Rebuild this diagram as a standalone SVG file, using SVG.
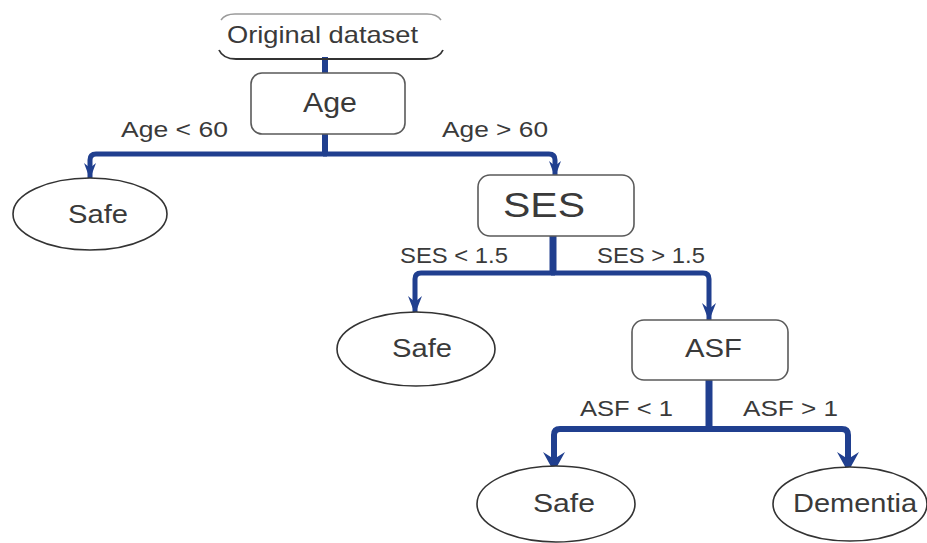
<svg xmlns="http://www.w3.org/2000/svg" width="927" height="543" viewBox="0 0 927 543">
  <style>
    text { font-family: "Liberation Sans", Arial, sans-serif; fill: #3a3a3a; }
    .box { fill: #ffffff; stroke: #5a5a5a; stroke-width: 1.6; }
    .leaf { fill: #ffffff; stroke: #333333; stroke-width: 1.6; }
    .wire { fill: none; stroke: #203f8f; stroke-linecap: butt; stroke-linejoin: round; }
    .lbl { font-size: 22px; }
  </style>
  <defs>
    <marker id="arrowS" markerUnits="userSpaceOnUse" viewBox="0 0 16 12" refX="15" refY="6" markerWidth="16" markerHeight="12" orient="auto">
      <path d="M0,0 L16,6 L0,12 L5,6 Z" fill="#203f8f"/>
    </marker>
    <marker id="arrowM" markerUnits="userSpaceOnUse" viewBox="0 0 18 14" refX="17" refY="7" markerWidth="18" markerHeight="14" orient="auto">
      <path d="M0,0 L18,7 L0,14 L6,7 Z" fill="#203f8f"/>
    </marker>
    <marker id="arrowL" markerUnits="userSpaceOnUse" viewBox="0 0 20 22" refX="19" refY="11" markerWidth="20" markerHeight="22" orient="auto">
      <path d="M0,0 L20,11 L0,22 L7,11 Z" fill="#203f8f"/>
    </marker>
  </defs>

  <rect width="927" height="543" fill="#ffffff"/>

  <!-- connectors -->
  <g id="connectors">
    <!-- root to Age -->
    <path class="wire" d="M325,57 V73" stroke-width="6"/>
    <!-- Age split -->
    <path class="wire" d="M325,132 V154" stroke-width="6"/>
    <path class="wire" d="M327,154 H96 Q90,154 90,160 V178" stroke-width="5" marker-end="url(#arrowS)"/>
    <path class="wire" d="M323,154 H549 Q555,154 555,160 V176" stroke-width="5" marker-end="url(#arrowS)"/>
    <!-- SES split -->
    <path class="wire" d="M553,235 V273" stroke-width="7"/>
    <path class="wire" d="M555,273 H421 Q415,273 415,279 V313" stroke-width="5" marker-end="url(#arrowM)"/>
    <path class="wire" d="M551,273 H703 Q709,273 709,279 V320" stroke-width="5" marker-end="url(#arrowM)"/>
    <!-- ASF split -->
    <path class="wire" d="M709,379 V429" stroke-width="7"/>
    <path class="wire" d="M711,429 H560 Q554,429 554,435 V471" stroke-width="6" marker-end="url(#arrowL)"/>
    <path class="wire" d="M707,429 H842 Q848,429 848,435 V471" stroke-width="6" marker-end="url(#arrowL)"/>
  </g>

  <!-- branch labels -->
  <g id="labels">
    <text class="lbl" x="121" y="137" textLength="107" lengthAdjust="spacingAndGlyphs">Age &lt; 60</text>
    <text class="lbl" x="442" y="137" textLength="106" lengthAdjust="spacingAndGlyphs">Age &gt; 60</text>
    <text class="lbl" x="400" y="263" textLength="108" lengthAdjust="spacingAndGlyphs">SES &lt; 1.5</text>
    <text class="lbl" x="597" y="263" textLength="108" lengthAdjust="spacingAndGlyphs">SES &gt; 1.5</text>
    <text class="lbl" x="580" y="416" textLength="93" lengthAdjust="spacingAndGlyphs">ASF &lt; 1</text>
    <text class="lbl" x="743" y="416" textLength="95" lengthAdjust="spacingAndGlyphs">ASF &gt; 1</text>
  </g>

  <!-- root: original dataset -->
  <g id="node-dataset">
    <path d="M221,20 Q225,14 235,14 H427 Q437,14 441,20" fill="none" stroke="#9a9a9a" stroke-width="1.4"/>
    <path d="M219,50 Q223,59 236,59 H426 Q439,59 443,50" fill="none" stroke="#333333" stroke-width="1.8"/>
    <text x="227" y="43" font-size="24" textLength="191" lengthAdjust="spacingAndGlyphs">Original dataset</text>
  </g>

  <g id="node-age">
    <rect class="box" x="251" y="73" width="154" height="61" rx="11"/>
    <text x="303" y="112" font-size="27" textLength="54" lengthAdjust="spacingAndGlyphs">Age</text>
  </g>

  <g id="node-safe1">
    <ellipse class="leaf" cx="90" cy="214" rx="77" ry="36"/>
    <text x="68" y="223" font-size="26" textLength="60" lengthAdjust="spacingAndGlyphs">Safe</text>
  </g>

  <g id="node-ses">
    <rect class="box" x="478" y="175" width="156" height="61" rx="12"/>
    <text x="503" y="217" font-size="35" textLength="82" lengthAdjust="spacingAndGlyphs">SES</text>
  </g>

  <g id="node-safe2">
    <ellipse class="leaf" cx="416" cy="349" rx="79" ry="37"/>
    <text x="392" y="357" font-size="26" textLength="60" lengthAdjust="spacingAndGlyphs">Safe</text>
  </g>

  <g id="node-asf">
    <rect class="box" x="632" y="320" width="156" height="60" rx="12"/>
    <text x="685" y="357" font-size="25" textLength="57" lengthAdjust="spacingAndGlyphs">ASF</text>
  </g>

  <g id="node-safe3">
    <ellipse class="leaf" cx="556" cy="504" rx="79" ry="38"/>
    <text x="533" y="512" font-size="26" textLength="62" lengthAdjust="spacingAndGlyphs">Safe</text>
  </g>

  <g id="node-dementia">
    <ellipse class="leaf" cx="850" cy="504" rx="77" ry="37"/>
    <text x="793" y="512" font-size="26" textLength="124" lengthAdjust="spacingAndGlyphs">Dementia</text>
  </g>
</svg>
